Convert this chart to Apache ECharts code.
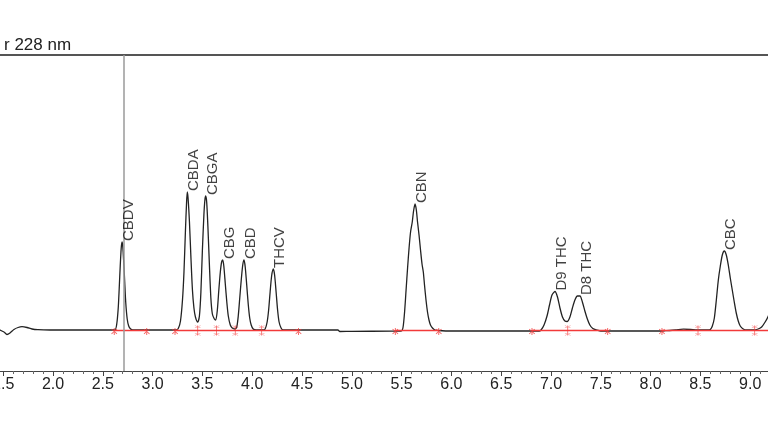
<!DOCTYPE html>
<html>
<head>
<meta charset="utf-8">
<title>Chromatogram 228 nm</title>
<script src="https://cdn.jsdelivr.net/npm/echarts@6/dist/echarts.min.js"></script>
<style>
  html, body { margin: 0; padding: 0; background: #fff; }
  #chart { width: 768px; height: 432px; }
</style>
</head>
<body>
<div id="chart"></div>
<script>
// detector trace, [retention time (min), signal]
const trace = [
  [1.440, 1], [1.468, 0], [1.508, -2], [1.538, -4.5], [1.568, -3], [1.608, 0.5], [1.649, 2.5],
  [1.689, 3.3], [1.739, 2.5], [1.789, 1], [1.849, 0.3], [1.970, 0], [2.400, 0], [2.620, 0],
  // CBDV
  [2.640, 6], [2.655, 22], [2.665, 42], [2.675, 64], [2.685, 82], [2.693, 88], [2.700, 84],
  [2.710, 68], [2.720, 48], [2.730, 28], [2.745, 11], [2.760, 4], [2.780, 1], [2.800, 0],
  [3.240, 0],
  // CBDA / CBGA / CBG / CBD
  [3.260, 2], [3.280, 9], [3.300, 30], [3.315, 58], [3.330, 100], [3.340, 125], [3.348, 138],
  [3.356, 132], [3.370, 108], [3.385, 72], [3.400, 40], [3.415, 22], [3.430, 13], [3.453, 8],
  [3.470, 14], [3.485, 38], [3.500, 80], [3.515, 115], [3.525, 130], [3.533, 134], [3.543, 128],
  [3.555, 104], [3.570, 66], [3.585, 32], [3.600, 16], [3.620, 11], [3.634, 10], [3.650, 20],
  [3.665, 40], [3.680, 58], [3.693, 68], [3.704, 70], [3.715, 64], [3.730, 46], [3.745, 28],
  [3.760, 14], [3.780, 5], [3.800, 2], [3.827, 1], [3.845, 3], [3.860, 14], [3.875, 32],
  [3.890, 50], [3.905, 65], [3.918, 70], [3.930, 63], [3.945, 45], [3.960, 26], [3.975, 12],
  [3.990, 5], [4.010, 1], [4.040, 0], [4.110, 0],
  // THCV
  [4.130, 1], [4.150, 8], [4.165, 20], [4.180, 38], [4.195, 54], [4.212, 61], [4.225, 55],
  [4.240, 38], [4.255, 20], [4.270, 8], [4.290, 2], [4.310, 0], [4.860, 0], [4.880, -1.5],
  [5.000, -1.3], [5.400, -1.2], [5.500, -0.8],
  // CBN
  [5.515, 3], [5.530, 18], [5.545, 40], [5.560, 62], [5.575, 82], [5.590, 98], [5.607, 108],
  [5.620, 119], [5.635, 126], [5.648, 120], [5.660, 108], [5.675, 95], [5.690, 80], [5.705, 66],
  [5.718, 58], [5.730, 45], [5.745, 30], [5.760, 18], [5.775, 10], [5.790, 5], [5.810, 2],
  [5.835, 0], [5.870, -0.5], [6.000, -1], [6.880, -1],
  // D9 THC / D8 THC
  [6.900, 0], [6.930, 5], [6.960, 14], [6.985, 25], [7.010, 35], [7.040, 38.5], [7.065, 33],
  [7.090, 22], [7.115, 13], [7.140, 9], [7.164, 8.5], [7.190, 13], [7.215, 22], [7.240, 30],
  [7.265, 34], [7.291, 34], [7.315, 28], [7.340, 19], [7.365, 11], [7.390, 5], [7.420, 1.5],
  [7.460, 0], [7.500, -1], [8.100, -1], [8.150, -0.7], [8.250, 0], [8.330, 0.8], [8.400, 0.5],
  [8.470, 0], [8.580, 0],
  // CBC
  [8.600, 0.5], [8.620, 4], [8.640, 12], [8.660, 30], [8.680, 50], [8.700, 64], [8.720, 75],
  [8.740, 79], [8.760, 75], [8.780, 65], [8.800, 52], [8.820, 40], [8.840, 28], [8.860, 17],
  [8.880, 9], [8.900, 4], [8.930, 1], [8.960, 0], [9.040, 0],
  [9.080, 1], [9.115, 3], [9.150, 8], [9.180, 13.5], [9.210, 22], [9.250, 35]
];

const peakNames = ['CBDV', 'CBDA', 'CBGA', 'CBG', 'CBD', 'THCV', 'CBN', 'D9 THC', 'D8 THC', 'CBC'];
const peakTimes = [2.693, 3.348, 3.533, 3.704, 3.918, 4.212, 5.635, 7.040, 7.291, 8.740];
const peakHeights = [88, 138, 134, 70, 70, 61, 126, 38.5, 34, 79];

// integration baselines (start, end)
const baselineSegments = [[2.615, 2.941], [3.225, 4.465], [5.437, 5.873], [6.809, 7.569], [8.114, 9.4]];
const singleMarks = [2.615, 2.941, 3.225, 4.465, 5.437, 5.873, 6.809, 7.569, 8.114];
const doubleMarks = [3.453, 3.642, 3.830, 4.095, 7.168, 8.476, 9.045];

const cursorTime = 2.71;
const xTicks = { min: 1.0, max: 9.5, step: 0.5 };

const chart = echarts.init(document.getElementById('chart'));

const redLine = [];
baselineSegments.forEach(s => { redLine.push([s[0], -0.5], [s[1], -0.5], [null, null]); });

const star = 'path://M-0.15,-1 L0.15,-1 L0.15,1 L-0.15,1 Z M-0.95,-0.55 L-0.8,-0.8 L0.95,0.55 L0.8,0.8 Z M0.95,-0.55 L0.8,-0.8 L-0.95,0.55 L-0.8,0.8 Z';
const dbl = 'path://M-0.12,-1 L0.12,-1 L0.12,1 L-0.12,1 Z M-0.9,-0.95 L-0.8,-1 L0.9,-0.55 L0.8,-0.5 Z M0.9,-0.95 L0.8,-1 L-0.9,-0.55 L-0.8,-0.5 Z M-0.9,0.55 L-0.8,0.5 L0.9,0.95 L0.8,1 Z M0.9,0.55 L0.8,0.5 L-0.9,0.95 L-0.8,1 Z';

const font = "'Liberation Sans', Arial, Helvetica, sans-serif";

chart.setOption({
  animation: false,
  title: {
    text: 'r 228 nm', left: -1, top: 32,
    textStyle: { fontFamily: font, fontSize: 17, fontWeight: 'normal', color: '#222' }
  },
  grid: { left: -46.6, right: -32, top: 55, bottom: 61, containLabel: false, outerBoundsMode: 'none' },
  xAxis: [
    {
      type: 'value', min: xTicks.min, max: xTicks.max, interval: xTicks.step,
      axisLine: { show: true, onZero: false, lineStyle: { color: '#444', width: 1 } },
      axisTick: { show: true, length: 5, lineStyle: { color: '#444' } },
      minorTick: { show: true, splitNumber: 5, length: 3, lineStyle: { color: '#666' } },
      splitLine: { show: false },
      axisLabel: {
        margin: 6, fontFamily: font, fontSize: 16, color: '#222',
        formatter: v => v.toFixed(1)
      }
    },
    {
      type: 'value', position: 'top', min: xTicks.min, max: xTicks.max,
      axisLine: { show: true, onZero: false, lineStyle: { color: '#555', width: 2 } },
      axisTick: { show: false }, axisLabel: { show: false }, splitLine: { show: false }
    }
  ],
  yAxis: { type: 'value', min: -41, max: 275, show: false },
  series: [
    {
      type: 'line', data: trace, showSymbol: false, smooth: 0.25,
      lineStyle: { color: '#222', width: 1.3 },
      markLine: {
        silent: true, symbol: 'none', label: { show: false },
        lineStyle: { color: '#9a9a9a', width: 1.5, type: 'solid' },
        data: [{ xAxis: cursorTime }]
      },
      z: 2
    },
    {
      type: 'line', data: redLine, showSymbol: false, connectNulls: false,
      lineStyle: { color: '#f23a3a', width: 1.4 }, z: 3
    },
    {
      type: 'scatter', data: singleMarks.map(t => [t, -1.5]),
      symbol: star, symbolSize: [6, 7], itemStyle: { color: '#f23a3a' }, z: 4
    },
    {
      type: 'scatter', data: doubleMarks.map(t => [t, -0.5]),
      symbol: dbl, symbolSize: [6, 10], itemStyle: { color: '#f23a3a' }, z: 4
    },
    {
      type: 'scatter',
      data: peakNames.map((n, i) => ({ name: n, value: [peakTimes[i], peakHeights[i]] })),
      symbolSize: 2, itemStyle: { color: 'rgba(0,0,0,0)' },
      label: {
        show: true, formatter: p => p.name, rotate: 90,
        position: [8, 0], align: 'left', verticalAlign: 'middle',
        fontFamily: font, fontSize: 15, color: '#111'
      },
      z: 5
    }
  ]
});
</script>
</body>
</html>
